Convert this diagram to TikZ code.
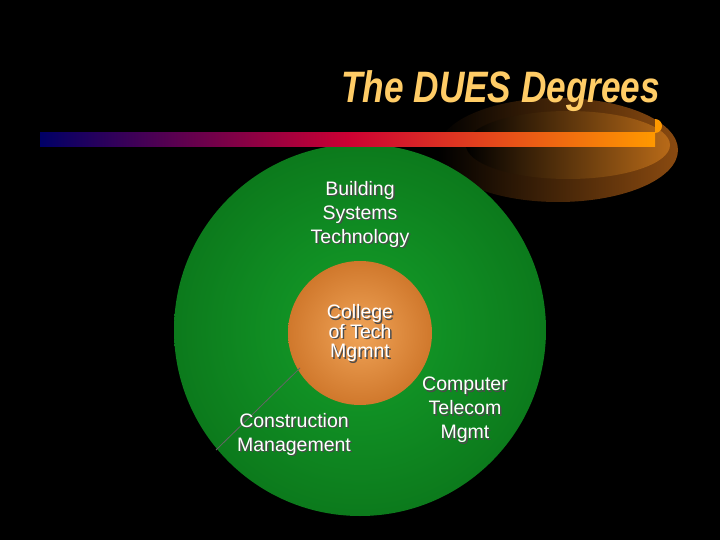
\documentclass[tikz,border=0pt]{standalone}
\usepackage{fontspec}
\setmainfont{Liberation Sans}
\usetikzlibrary{shadings}
\definecolor{ttl}{HTML}{FFCC66}
\definecolor{grn}{HTML}{14A02A}
\definecolor{grnd}{HTML}{0C7A1C}
\definecolor{glo}{HTML}{8A4A10}
\definecolor{gli}{HTML}{B86A18}
\definecolor{orc}{HTML}{F0A458}
\definecolor{ore}{HTML}{D0782C}
\begin{document}
\begin{tikzpicture}[x=1pt,y=-1pt,
  lbl/.style={text=white,align=center,font=\fontsize{19.5}{24}\selectfont,inner sep=0pt},
  shd/.style={lbl,text=black!70}]
\fill[black] (0,0) rectangle (720,540);
\useasboundingbox (0,0) rectangle (720,540);
% glow
\shade[left color=black, right color=glo] (558,150) ellipse [x radius=120, y radius=52];
\shade[left color=black, right color=gli] (568,145) ellipse [x radius=102, y radius=34];
% big circle
\shade[inner color=grn, outer color=grnd] (360,330) circle [radius=186];
% bar
\shade[left color=blue!40!black, right color=orange!80!yellow, middle color=purple!80!red] (40,133) rectangle (655,147);
\fill[orange!80!yellow] (655,133) arc[start angle=90,end angle=-90,radius=7];
% inner circle
\shade[inner color=orc, outer color=ore] (360,333) circle [radius=72];
\node (t) [anchor=east, text=ttl, font=\fontsize{44}{44}\selectfont\bfseries\itshape, xscale=0.8] at (663,91) {The DUES Degrees};
\coordinate (la) at (300,368);
\coordinate (lb) at (216,450);
\draw[black!60, line width=0.8pt] (la) -- (lb);
\foreach \p/\t in {{(361.5,215.5)}/{Building\\Systems\\Technology},{(295.5,435.5)}/{Construction\\Management},{(466.5,411.5)}/{Computer\\Telecom\\Mgmt}}{
  \node[shd] at \p {\t};}
\node[shd,font=\fontsize{19.5}{19.5}\selectfont] at (361.5,334.5) {College\\of Tech\\Mgmnt};
\node (b) [lbl] at (360,214) {Building\\Systems\\Technology};
\node (c) [lbl,font=\fontsize{19.5}{19.5}\selectfont] at (360,333) {College\\of Tech\\Mgmnt};
\node (m) [lbl] at (294,434) {Construction\\Management};
\node (k) [lbl] at (465,410) {Computer\\Telecom\\Mgmt};
\end{tikzpicture}
\end{document}
